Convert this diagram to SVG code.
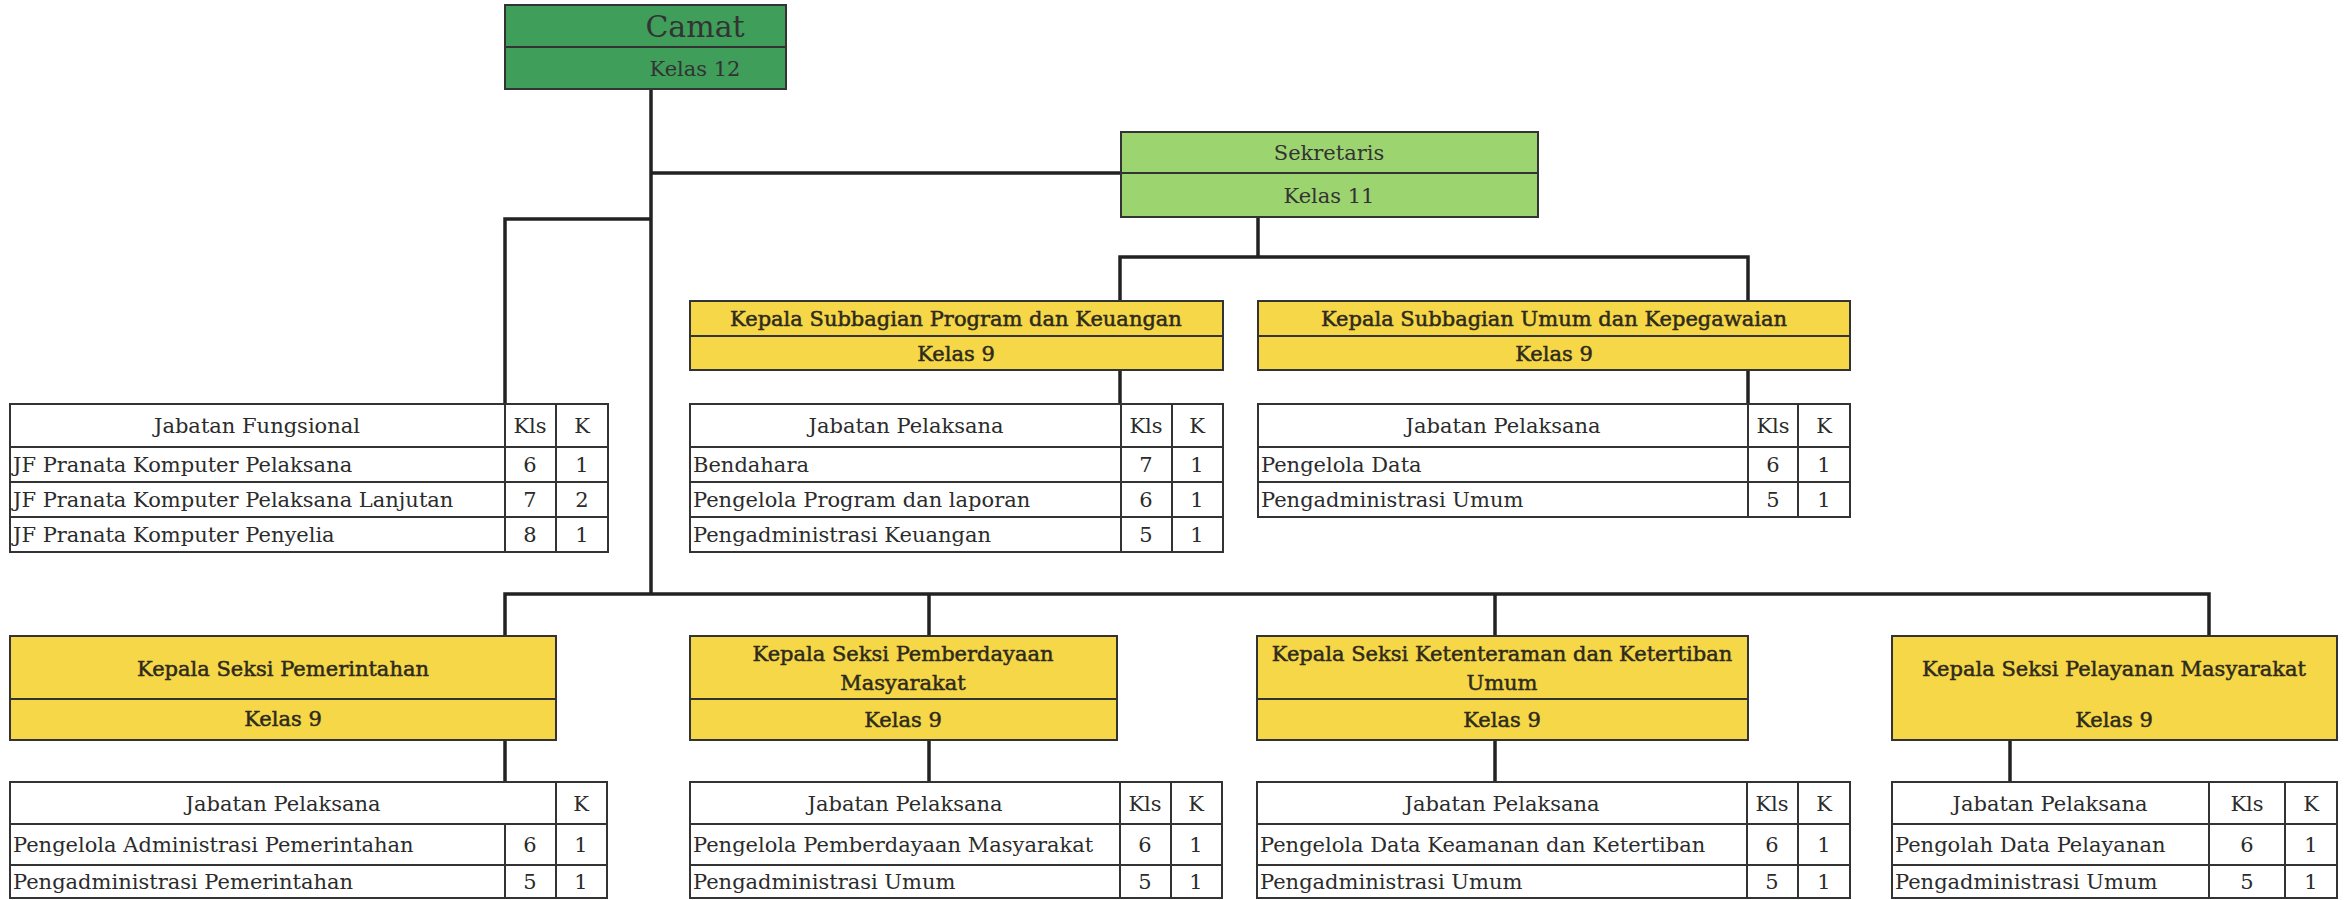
<svg xmlns="http://www.w3.org/2000/svg" width="2348" height="900" viewBox="0 0 2348 900">
  <style>
    .box { stroke: #333; stroke-width: 2; }
    .cam { fill: #3f9e59; }
    .sek { fill: #9cd46f; }
    .yel { fill: #f5d747; }
    .cell { fill: #fff; stroke: #333; stroke-width: 2; }
    .conn { stroke: #222; stroke-width: 3.5; fill: none; }
    text { font-family: "DejaVu Serif", "Liberation Serif", serif; font-size: 21px; fill: #2b2b2b; }
    .c { text-anchor: middle; }
    .h { fill: #2e2a1c; stroke: #2e2a1c; stroke-width: 0.5; }
    .big { font-size: 30px; fill: #333; }
    .mid { font-size: 21px; fill: #333; }
  </style>

  <rect width="2348" height="900" fill="#fff"/>

  <!-- connectors -->
  <g id="connectors" class="conn">
    <!-- Camat trunk down to the section bus -->
    <path d="M651 89 V594"/>
    <!-- Camat to Sekretaris -->
    <path d="M651 173 H1121"/>
    <!-- Camat to Jabatan Fungsional -->
    <path d="M651 219 H505 V404"/>
    <!-- Sekretaris to subbagian -->
    <path d="M1258 217 V257"/>
    <path d="M1120 301 V257 H1748 V301"/>
    <path d="M1120 370 V404"/>
    <path d="M1748 370 V404"/>
    <!-- section bus -->
    <path d="M505 636 V594 H2209 V636"/>
    <path d="M929 594 V636"/>
    <path d="M1495 594 V636"/>
    <!-- sections to their staff tables -->
    <path d="M505 740 V782"/>
    <path d="M929 740 V782"/>
    <path d="M1495 740 V782"/>
    <path d="M2010 740 V782"/>
  </g>

  <!-- Camat -->
  <g id="camat">
    <rect class="box cam" x="505" y="5" width="281" height="42"/>
    <rect class="box cam" x="505" y="47" width="281" height="42"/>
    <text class="c big" x="695" y="37">Camat</text>
    <text class="c mid" x="695" y="76">Kelas 12</text>
  </g>

  <!-- Sekretaris -->
  <g id="sekretaris">
    <rect class="box sek" x="1121" y="132" width="417" height="41"/>
    <rect class="box sek" x="1121" y="173" width="417" height="44"/>
    <text class="c mid" x="1329" y="160">Sekretaris</text>
    <text class="c mid" x="1329" y="203">Kelas 11</text>
  </g>

  <!-- Jabatan Fungsional -->
  <g id="jabatan-fungsional">
    <rect class="cell" x="10" y="404" width="495" height="43"/>
    <rect class="cell" x="505" y="404" width="51" height="43"/>
    <rect class="cell" x="556" y="404" width="52" height="43"/>
    <rect class="cell" x="10" y="447" width="495" height="35"/>
    <rect class="cell" x="505" y="447" width="51" height="35"/>
    <rect class="cell" x="556" y="447" width="52" height="35"/>
    <rect class="cell" x="10" y="482" width="495" height="35"/>
    <rect class="cell" x="505" y="482" width="51" height="35"/>
    <rect class="cell" x="556" y="482" width="52" height="35"/>
    <rect class="cell" x="10" y="517" width="495" height="35"/>
    <rect class="cell" x="505" y="517" width="51" height="35"/>
    <rect class="cell" x="556" y="517" width="52" height="35"/>
    <text class="c" x="257" y="433">Jabatan Fungsional</text>
    <text class="c" x="530" y="433">Kls</text>
    <text class="c" x="582" y="433">K</text>
    <text x="13" y="472">JF Pranata Komputer Pelaksana</text>
    <text class="c" x="530" y="472">6</text>
    <text class="c" x="582" y="472">1</text>
    <text x="13" y="507">JF Pranata Komputer Pelaksana Lanjutan</text>
    <text class="c" x="530" y="507">7</text>
    <text class="c" x="582" y="507">2</text>
    <text x="13" y="542">JF Pranata Komputer Penyelia</text>
    <text class="c" x="530" y="542">8</text>
    <text class="c" x="582" y="542">1</text>
  </g>

  <!-- Kepala Subbagian Program dan Keuangan -->
  <g id="subbag-program">
    <rect class="box yel" x="690" y="301" width="533" height="35"/>
    <rect class="box yel" x="690" y="336" width="533" height="34"/>
    <text class="c h" x="956" y="326">Kepala Subbagian Program dan Keuangan</text>
    <text class="c h" x="956" y="361">Kelas 9</text>
  </g>
  <g id="pelaksana-program">
    <rect class="cell" x="690" y="404" width="431" height="43"/>
    <rect class="cell" x="1121" y="404" width="51" height="43"/>
    <rect class="cell" x="1172" y="404" width="51" height="43"/>
    <rect class="cell" x="690" y="447" width="431" height="35"/>
    <rect class="cell" x="1121" y="447" width="51" height="35"/>
    <rect class="cell" x="1172" y="447" width="51" height="35"/>
    <rect class="cell" x="690" y="482" width="431" height="35"/>
    <rect class="cell" x="1121" y="482" width="51" height="35"/>
    <rect class="cell" x="1172" y="482" width="51" height="35"/>
    <rect class="cell" x="690" y="517" width="431" height="35"/>
    <rect class="cell" x="1121" y="517" width="51" height="35"/>
    <rect class="cell" x="1172" y="517" width="51" height="35"/>
    <text class="c" x="906" y="433">Jabatan Pelaksana</text>
    <text class="c" x="1146" y="433">Kls</text>
    <text class="c" x="1197" y="433">K</text>
    <text x="693" y="472">Bendahara</text>
    <text class="c" x="1146" y="472">7</text>
    <text class="c" x="1197" y="472">1</text>
    <text x="693" y="507">Pengelola Program dan laporan</text>
    <text class="c" x="1146" y="507">6</text>
    <text class="c" x="1197" y="507">1</text>
    <text x="693" y="542">Pengadministrasi Keuangan</text>
    <text class="c" x="1146" y="542">5</text>
    <text class="c" x="1197" y="542">1</text>
  </g>

  <!-- Kepala Subbagian Umum dan Kepegawaian -->
  <g id="subbag-umum">
    <rect class="box yel" x="1258" y="301" width="592" height="35"/>
    <rect class="box yel" x="1258" y="336" width="592" height="34"/>
    <text class="c h" x="1554" y="326">Kepala Subbagian Umum dan Kepegawaian</text>
    <text class="c h" x="1554" y="361">Kelas 9</text>
  </g>
  <g id="pelaksana-umum">
    <rect class="cell" x="1258" y="404" width="490" height="43"/>
    <rect class="cell" x="1748" y="404" width="50" height="43"/>
    <rect class="cell" x="1798" y="404" width="52" height="43"/>
    <rect class="cell" x="1258" y="447" width="490" height="35"/>
    <rect class="cell" x="1748" y="447" width="50" height="35"/>
    <rect class="cell" x="1798" y="447" width="52" height="35"/>
    <rect class="cell" x="1258" y="482" width="490" height="35"/>
    <rect class="cell" x="1748" y="482" width="50" height="35"/>
    <rect class="cell" x="1798" y="482" width="52" height="35"/>
    <text class="c" x="1503" y="433">Jabatan Pelaksana</text>
    <text class="c" x="1773" y="433">Kls</text>
    <text class="c" x="1824" y="433">K</text>
    <text x="1261" y="472">Pengelola Data</text>
    <text class="c" x="1773" y="472">6</text>
    <text class="c" x="1824" y="472">1</text>
    <text x="1261" y="507">Pengadministrasi Umum</text>
    <text class="c" x="1773" y="507">5</text>
    <text class="c" x="1824" y="507">1</text>
  </g>

  <!-- Kepala Seksi Pemerintahan -->
  <g id="seksi-pemerintahan">
    <rect class="box yel" x="10" y="636" width="546" height="63"/>
    <rect class="box yel" x="10" y="699" width="546" height="41"/>
    <text class="c h" x="283" y="676">Kepala Seksi Pemerintahan</text>
    <text class="c h" x="283" y="726">Kelas 9</text>
  </g>
  <g id="pelaksana-pemerintahan">
    <rect class="cell" x="10" y="782" width="546" height="42"/>
    <rect class="cell" x="556" y="782" width="51" height="42"/>
    <rect class="cell" x="10" y="824" width="495" height="41"/>
    <rect class="cell" x="505" y="824" width="51" height="41"/>
    <rect class="cell" x="556" y="824" width="51" height="41"/>
    <rect class="cell" x="10" y="865" width="495" height="33"/>
    <rect class="cell" x="505" y="865" width="51" height="33"/>
    <rect class="cell" x="556" y="865" width="51" height="33"/>
    <text class="c" x="283" y="811">Jabatan Pelaksana</text>
    <text class="c" x="581" y="811">K</text>
    <text x="13" y="852">Pengelola Administrasi Pemerintahan</text>
    <text class="c" x="530" y="852">6</text>
    <text class="c" x="581" y="852">1</text>
    <text x="13" y="889">Pengadministrasi Pemerintahan</text>
    <text class="c" x="530" y="889">5</text>
    <text class="c" x="581" y="889">1</text>
  </g>

  <!-- Kepala Seksi Pemberdayaan Masyarakat -->
  <g id="seksi-pemberdayaan">
    <rect class="box yel" x="690" y="636" width="427" height="63"/>
    <rect class="box yel" x="690" y="699" width="427" height="41"/>
    <text class="c h" x="903" y="661">Kepala Seksi Pemberdayaan</text>
    <text class="c h" x="903" y="690">Masyarakat</text>
    <text class="c h" x="903" y="727">Kelas 9</text>
  </g>
  <g id="pelaksana-pemberdayaan">
    <rect class="cell" x="690" y="782" width="430" height="42"/>
    <rect class="cell" x="1120" y="782" width="51" height="42"/>
    <rect class="cell" x="1171" y="782" width="51" height="42"/>
    <rect class="cell" x="690" y="824" width="430" height="41"/>
    <rect class="cell" x="1120" y="824" width="51" height="41"/>
    <rect class="cell" x="1171" y="824" width="51" height="41"/>
    <rect class="cell" x="690" y="865" width="430" height="33"/>
    <rect class="cell" x="1120" y="865" width="51" height="33"/>
    <rect class="cell" x="1171" y="865" width="51" height="33"/>
    <text class="c" x="905" y="811">Jabatan Pelaksana</text>
    <text class="c" x="1145" y="811">Kls</text>
    <text class="c" x="1196" y="811">K</text>
    <text x="693" y="852">Pengelola Pemberdayaan Masyarakat</text>
    <text class="c" x="1145" y="852">6</text>
    <text class="c" x="1196" y="852">1</text>
    <text x="693" y="889">Pengadministrasi Umum</text>
    <text class="c" x="1145" y="889">5</text>
    <text class="c" x="1196" y="889">1</text>
  </g>

  <!-- Kepala Seksi Ketenteraman dan Ketertiban Umum -->
  <g id="seksi-ketenteraman">
    <rect class="box yel" x="1257" y="636" width="491" height="63"/>
    <rect class="box yel" x="1257" y="699" width="491" height="41"/>
    <text class="c h" x="1502" y="661">Kepala Seksi Ketenteraman dan Ketertiban</text>
    <text class="c h" x="1502" y="690">Umum</text>
    <text class="c h" x="1502" y="727">Kelas 9</text>
  </g>
  <g id="pelaksana-ketenteraman">
    <rect class="cell" x="1257" y="782" width="490" height="42"/>
    <rect class="cell" x="1747" y="782" width="51" height="42"/>
    <rect class="cell" x="1798" y="782" width="52" height="42"/>
    <rect class="cell" x="1257" y="824" width="490" height="41"/>
    <rect class="cell" x="1747" y="824" width="51" height="41"/>
    <rect class="cell" x="1798" y="824" width="52" height="41"/>
    <rect class="cell" x="1257" y="865" width="490" height="33"/>
    <rect class="cell" x="1747" y="865" width="51" height="33"/>
    <rect class="cell" x="1798" y="865" width="52" height="33"/>
    <text class="c" x="1502" y="811">Jabatan Pelaksana</text>
    <text class="c" x="1772" y="811">Kls</text>
    <text class="c" x="1824" y="811">K</text>
    <text x="1260" y="852">Pengelola Data Keamanan dan Ketertiban</text>
    <text class="c" x="1772" y="852">6</text>
    <text class="c" x="1824" y="852">1</text>
    <text x="1260" y="889">Pengadministrasi Umum</text>
    <text class="c" x="1772" y="889">5</text>
    <text class="c" x="1824" y="889">1</text>
  </g>

  <!-- Kepala Seksi Pelayanan Masyarakat -->
  <g id="seksi-pelayanan">
    <rect class="box yel" x="1892" y="636" width="445" height="104"/>
    <text class="c h" x="2114" y="676">Kepala Seksi Pelayanan Masyarakat</text>
    <text class="c h" x="2114" y="727">Kelas 9</text>
  </g>
  <g id="pelaksana-pelayanan">
    <rect class="cell" x="1892" y="782" width="317" height="42"/>
    <rect class="cell" x="2209" y="782" width="76" height="42"/>
    <rect class="cell" x="2285" y="782" width="52" height="42"/>
    <rect class="cell" x="1892" y="824" width="317" height="41"/>
    <rect class="cell" x="2209" y="824" width="76" height="41"/>
    <rect class="cell" x="2285" y="824" width="52" height="41"/>
    <rect class="cell" x="1892" y="865" width="317" height="33"/>
    <rect class="cell" x="2209" y="865" width="76" height="33"/>
    <rect class="cell" x="2285" y="865" width="52" height="33"/>
    <text class="c" x="2050" y="811">Jabatan Pelaksana</text>
    <text class="c" x="2247" y="811">Kls</text>
    <text class="c" x="2311" y="811">K</text>
    <text x="1895" y="852">Pengolah Data Pelayanan</text>
    <text class="c" x="2247" y="852">6</text>
    <text class="c" x="2311" y="852">1</text>
    <text x="1895" y="889">Pengadministrasi Umum</text>
    <text class="c" x="2247" y="889">5</text>
    <text class="c" x="2311" y="889">1</text>
  </g>
</svg>
